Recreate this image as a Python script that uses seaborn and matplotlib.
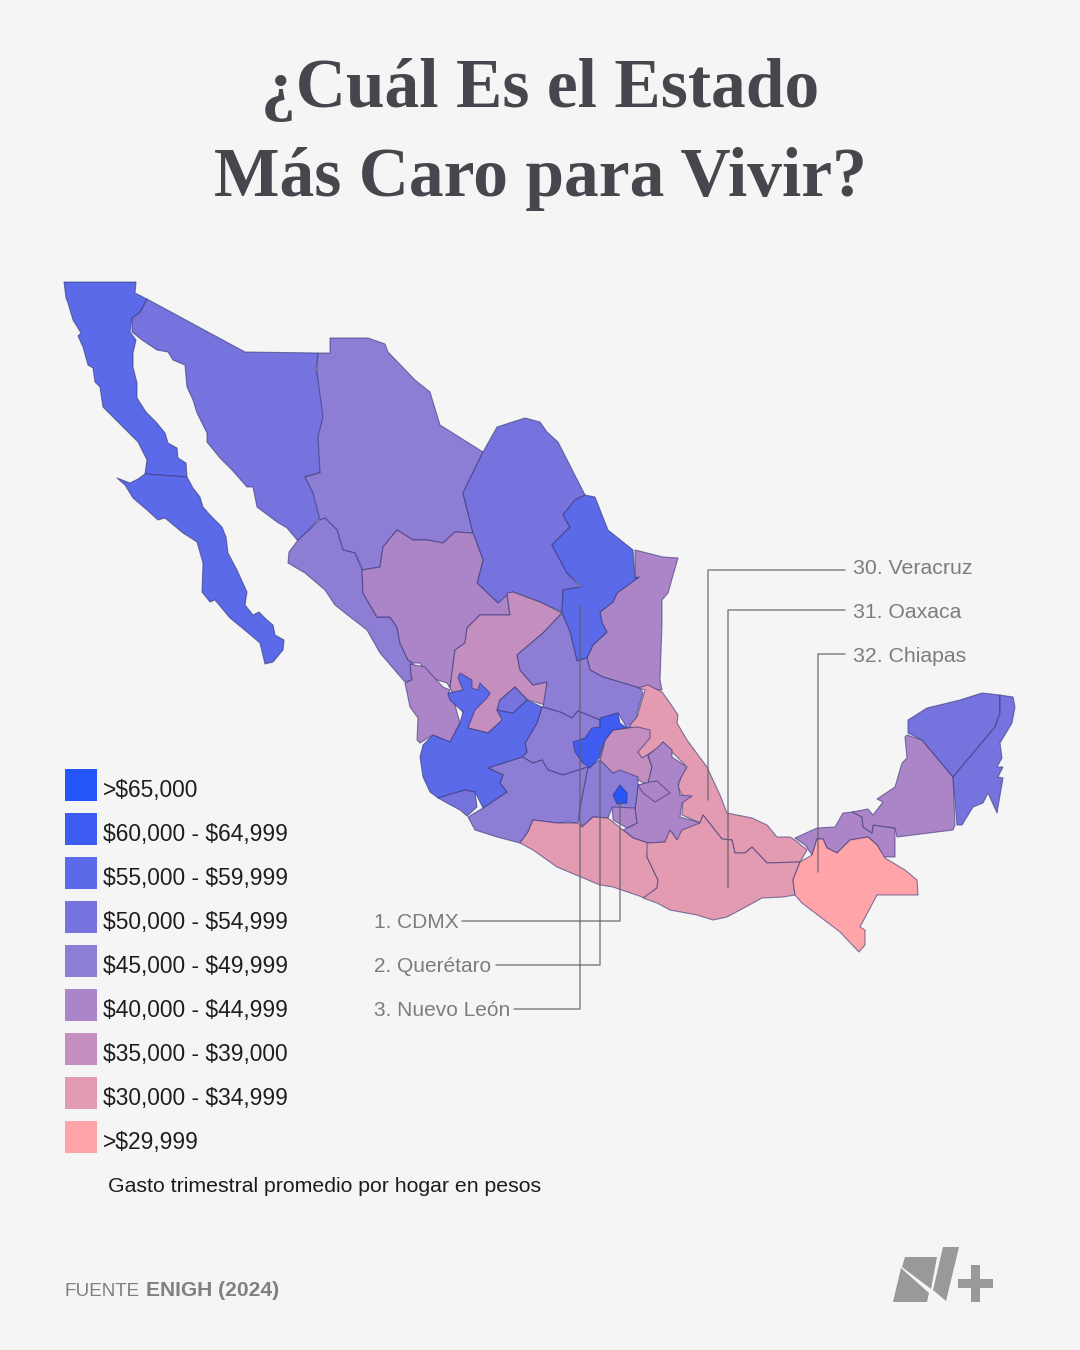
"""Estado mas caro para vivir, map of Mexico"""

##

import matplotlib.pyplot as plt
import numpy as np
import pandas as pd
import seaborn as sns
from matplotlib.colors import ListedColormap
from matplotlib.transforms import ScaledTranslation

## legend bins, top to bottom
bin_labels = ['>$65,000' , '$60,000 - $64,999' , '$55,000 - $59,999' , '$50,000 - $54,999' ,
              '$45,000 - $49,999' , '$40,000 - $44,999' , '$35,000 - $39,000' , '$30,000 - $34,999' ,
              '>$29,999']
bin_colors = ['#2456fa' , '#3f5cf2' , '#5a6ae8' , '#7673df' , '#8e7dd5' , '#ac85c8' , '#c48fbe' , '#e39bb2' ,
              '#ffa4a8']

## state outlines (image x , image y)
sonora = [(147 , 299) , (245 , 352) , (318 , 353) , (316 , 370) , (323 , 397) , (325 , 417) , (320 , 433) , (321 , 472) ,
          (305 , 477) , (317 , 500) , (320 , 518) , (298 , 541) , (287 , 528) , (277 , 522) , (257 , 507) , (253 , 487) ,
          (247 , 487) , (232 , 470) , (220 , 458) , (207 , 442) , (207 , 433) , (197 , 413) , (193 , 400) , (187 , 387) ,
          (185 , 365) , (173 , 360) , (168 , 352) , (157 , 350) , (142 , 340) , (132 , 332) , (132 , 318) , (140 , 312)]
baja_california = [(64 , 282) , (136 , 282) , (135 , 293) , (147 , 299) , (140 , 312) , (132 , 318) , (130 , 332) , (136 , 340) ,
                    (133 , 353) , (133 , 367) , (137 , 383) , (137 , 398) , (146 , 412) , (156 , 422) , (165 , 433) ,
                    (168 , 443) , (177 , 448) , (178 , 458) , (186 , 463) , (187 , 477) , (145 , 474) , (147 , 460) ,
                    (138 , 442) , (118 , 422) , (103 , 407) , (100 , 387) , (95 , 382) , (93 , 368) , (88 , 365) , (83 , 347) ,
                    (78 , 336) , (81 , 333) , (73 , 320) , (68 , 303) , (66 , 298)]
baja_california_sur = [(145 , 474) , (187 , 477) , (193 , 488) , (200 , 497) , (203 , 507) , (210 , 515) , (222 , 527) ,
                       (226 , 537) , (228 , 553) , (237 , 570) , (247 , 592) , (245 , 605) , (253 , 615) , (259 , 612) ,
                       (267 , 620) , (273 , 625) , (275 , 635) , (284 , 640) , (283 , 650) , (273 , 662) , (265 , 664) ,
                       (260 , 643) , (247 , 632) , (230 , 618) , (215 , 600) , (210 , 602) , (202 , 592) , (203 , 563) ,
                       (197 , 542) , (183 , 533) , (165 , 518) , (158 , 520) , (147 , 510) , (133 , 498) , (125 , 485) ,
                       (117 , 478) , (130 , 483) , (138 , 479)]
chihuahua = [(330 , 338) , (368 , 338) , (385 , 344) , (388 , 352) , (415 , 380) , (430 , 392) , (440 , 425) , (483 , 452) ,
             (463 , 493) , (473 , 533) , (455 , 532) , (443 , 543) , (427 , 540) , (413 , 540) , (397 , 530) , (383 , 547) ,
             (380 , 567) , (363 , 570) , (355 , 553) , (343 , 550) , (337 , 530) , (325 , 518) , (320 , 520) , (313 , 493) ,
             (305 , 477) , (320 , 473) , (318 , 437) , (323 , 417) , (317 , 373) , (318 , 353) , (330 , 353)]
coahuila = [(483 , 452) , (497 , 427) , (525 , 418) , (540 , 422) , (547 , 432) , (558 , 442) , (585 , 495) , (575 , 500) ,
            (563 , 515) , (570 , 527) , (552 , 545) , (567 , 573) , (580 , 587) , (563 , 590) , (562 , 612) , (540 , 602) ,
            (513 , 592) , (498 , 603) , (477 , 583) , (483 , 560) , (473 , 533) , (463 , 493)]
nuevo_leon = [(585 , 495) , (595 , 497) , (608 , 530) , (633 , 550) , (635 , 578) , (639 , 577) , (617 , 593) , (613 , 602) ,
              (600 , 612) , (602 , 623) , (607 , 632) , (593 , 645) , (587 , 658) , (577 , 661) , (570 , 632) , (562 , 612) ,
              (563 , 590) , (582 , 587) , (567 , 573) , (552 , 545) , (570 , 527) , (563 , 515) , (575 , 500)]
tamaulipas = [(635 , 550) , (663 , 557) , (678 , 558) , (668 , 593) , (662 , 600) , (662 , 623) , (660 , 680) , (662 , 690) ,
              (640 , 688) , (623 , 683) , (603 , 677) , (590 , 670) , (587 , 658) , (593 , 645) , (607 , 632) , (602 , 623) ,
              (600 , 612) , (613 , 602) , (617 , 593) , (639 , 577) , (635 , 578)]
sinaloa = [(320 , 520) , (325 , 518) , (337 , 530) , (343 , 550) , (355 , 553) , (362 , 570) , (363 , 593) , (377 , 617) ,
           (390 , 617) , (397 , 627) , (400 , 643) , (408 , 660) , (413 , 663) , (410 , 672) , (412 , 680) , (405 , 682) ,
           (380 , 653) , (367 , 630) , (345 , 613) , (335 , 605) , (325 , 590) , (305 , 573) , (288 , 563) , (289 , 552) ,
           (298 , 540)]
durango = [(397 , 530) , (413 , 540) , (427 , 540) , (443 , 543) , (455 , 532) , (473 , 533) , (483 , 560) , (477 , 583) ,
           (498 , 603) , (507 , 595) , (510 , 615) , (480 , 615) , (467 , 628) , (465 , 643) , (455 , 650) , (450 , 688) ,
           (447 , 683) , (428 , 677) , (420 , 663) , (413 , 663) , (408 , 660) , (400 , 643) , (397 , 627) , (390 , 617) ,
           (377 , 617) , (363 , 593) , (362 , 570) , (380 , 567) , (383 , 547)]
zacatecas = [(507 , 593) , (513 , 592) , (540 , 602) , (562 , 613) , (543 , 633) , (517 , 655) , (520 , 670) , (533 , 685) ,
             (547 , 682) , (545 , 705) , (528 , 700) , (515 , 687) , (500 , 700) , (497 , 710) , (503 , 720) , (488 , 733) ,
             (468 , 728) , (462 , 710) , (450 , 688) , (455 , 650) , (465 , 643) , (467 , 628) , (480 , 615) , (510 , 615)]
nayarit = [(410 , 664) , (425 , 667) , (430 , 673) , (443 , 687) , (450 , 690) , (448 , 695) , (455 , 705) , (460 , 723) ,
           (450 , 742) , (433 , 735) , (420 , 743) , (417 , 740) , (418 , 718) , (410 , 707) , (405 , 683) , (412 , 680)]
san_luis_potosi = [(562 , 613) , (570 , 632) , (577 , 661) , (587 , 658) , (590 , 670) , (603 , 677) , (623 , 683) , (640 , 688) ,
                   (643 , 693) , (637 , 713) , (642 , 728) , (627 , 728) , (618 , 713) , (600 , 720) , (578 , 711) , (572 , 718) ,
                   (560 , 712) , (543 , 707) , (547 , 682) , (533 , 685) , (520 , 670) , (517 , 655) , (543 , 633)]
guanajuato = [(542 , 707) , (560 , 712) , (572 , 718) , (578 , 711) , (600 , 720) , (600 , 750) , (588 , 767) ,
              (563 , 775) , (548 , 770) , (542 , 760) , (533 , 763) , (522 , 757) , (527 , 752) , (525 , 743) , (537 , 723)]
veracruz = [(638 , 688) , (648 , 685) , (662 , 692) , (670 , 703) , (678 , 715) , (677 , 723) , (687 , 740) , (707 , 767) ,
            (720 , 795) , (727 , 813) , (752 , 818) , (767 , 825) , (777 , 837) , (790 , 837) , (795 , 840) , (807 , 850) ,
            (803 , 857) , (800 , 862) , (767 , 863) , (752 , 847) , (745 , 853) , (735 , 853) , (732 , 840) , (722 , 839) ,
            (703 , 815) , (700 , 823) , (682 , 815) , (683 , 797) , (678 , 787) , (685 , 765) , (672 , 752) , (663 , 742) ,
            (655 , 755) , (640 , 760) , (635 , 740) , (630 , 725) , (637 , 717) , (645 , 690)]
hidalgo = [(627 , 728) , (638 , 727) , (650 , 730) , (650 , 738) , (638 , 752) , (642 , 758) , (657 , 749) , (648 , 757) ,
           (652 , 767) , (648 , 785) , (638 , 780) , (620 , 772) , (613 , 775) , (600 , 762) , (605 , 740) , (613 , 730)]
puebla = [(663 , 742) , (672 , 750) , (672 , 757) , (687 , 767) , (678 , 783) , (680 , 795) , (692 , 796) , (682 , 803) ,
          (680 , 817) , (702 , 823) , (697 , 832) , (683 , 833) , (677 , 842) , (672 , 832) , (665 , 842) , (648 , 843) ,
          (633 , 838) , (623 , 830) , (637 , 823) , (635 , 810) , (638 , 785) , (648 , 783) , (652 , 767) , (648 , 755) ,
          (657 , 748)]
tlaxcala = [(638 , 785) , (650 , 782) , (657 , 781) , (670 , 793) , (655 , 802) , (643 , 793)]
edomex = [(600 , 760) , (613 , 773) , (620 , 770) , (638 , 777) , (638 , 785) , (635 , 810) , (627 , 815) , (612 , 808) ,
          (608 , 818) , (593 , 817) , (582 , 827) , (578 , 817) , (580 , 807) , (588 , 767)]
morelos = [(612 , 807) , (635 , 808) , (637 , 823) , (627 , 828) , (613 , 820)]
cdmx = [(620 , 785) , (627 , 793) , (627 , 803) , (617 , 804) , (613 , 795)]
michoacan = [(488 , 768) , (522 , 757) , (533 , 763) , (542 , 760) , (548 , 770) , (563 , 775) , (588 , 767) , (580 , 807) ,
             (578 , 823) , (568 , 822) , (557 , 823) , (533 , 820) , (528 , 832) , (520 , 843) , (497 , 837) , (475 , 830) ,
             (468 , 817) , (483 , 808) , (507 , 792) , (500 , 783) , (503 , 775)]
jalisco = [(420 , 757) , (423 , 745) , (433 , 735) , (450 , 742) , (460 , 723) , (463 , 712) , (450 , 700) , (448 , 693) ,
           (463 , 690) , (458 , 678) , (460 , 673) , (467 , 677) , (472 , 680) , (472 , 688) , (478 , 690) , (480 , 683) ,
           (490 , 693) , (487 , 698) , (475 , 710) , (468 , 728) , (488 , 733) , (502 , 720) , (497 , 710) , (513 , 713) ,
           (527 , 700) , (542 , 707) , (537 , 723) , (525 , 743) , (527 , 752) , (522 , 757) , (488 , 768) , (503 , 775) ,
           (500 , 783) , (507 , 792) , (483 , 808) , (475 , 792) , (465 , 790) , (438 , 798) , (430 , 792) , (423 , 777)]
aguascalientes = [(497 , 710) , (500 , 700) , (515 , 687) , (527 , 700) , (513 , 713)]
colima = [(438 , 798) , (465 , 790) , (475 , 792) , (477 , 807) , (467 , 816) , (460 , 810) , (447 , 803)]
queretaro = [(600 , 718) , (618 , 713) , (620 , 723) , (627 , 728) , (613 , 730) , (605 , 740) , (600 , 757) , (590 , 768) ,
             (582 , 762) , (575 , 752) , (573 , 742) , (585 , 738) , (592 , 728) , (600 , 727)]
guerrero = [(520 , 843) , (528 , 832) , (533 , 820) , (557 , 823) , (578 , 823) , (582 , 827) , (593 , 817) , (608 , 818) ,
            (623 , 830) , (633 , 838) , (648 , 843) , (647 , 857) , (658 , 880) , (657 , 888) , (645 , 898) , (613 , 887) ,
            (600 , 885) , (557 , 867) , (533 , 850)]
oaxaca = [(647 , 843) , (665 , 842) , (670 , 830) , (677 , 840) , (682 , 830) , (700 , 823) , (703 , 815) , (722 , 839) ,
          (732 , 840) , (735 , 853) , (745 , 853) , (752 , 847) , (767 , 863) , (800 , 862) , (793 , 880) , (795 , 895) ,
          (783 , 897) , (762 , 898) , (753 , 903) , (727 , 917) , (713 , 920) , (697 , 915) , (670 , 910) , (657 , 903) ,
          (643 , 898) , (657 , 888) , (658 , 880) , (647 , 857)]
chiapas = [(793 , 880) , (800 , 862) , (812 , 855) , (817 , 839) , (823 , 839) , (827 , 848) , (837 , 853) , (850 , 840) ,
           (868 , 837) , (877 , 845) , (885 , 858) , (905 , 870) , (917 , 880) , (918 , 895) , (877 , 895) , (860 , 927) ,
           (865 , 930) , (865 , 945) , (859 , 952) , (840 , 932) , (802 , 903) , (795 , 895)]
tabasco = [(795 , 838) , (817 , 828) , (835 , 827) , (843 , 813) , (853 , 812) , (862 , 817) , (863 , 827) , (872 , 833) ,
           (873 , 825) , (895 , 828) , (895 , 857) , (883 , 857) , (877 , 845) , (868 , 837) , (850 , 840) , (837 , 853) ,
           (827 , 848) , (823 , 839) , (817 , 839) , (812 , 855) , (805 , 845)]
campeche = [(907 , 735) , (922 , 740) , (953 , 777) , (955 , 825) , (953 , 830) , (897 , 837) , (895 , 828) , (873 , 825) ,
            (872 , 833) , (863 , 827) , (862 , 817) , (852 , 812) , (868 , 809) , (873 , 815) , (883 , 802) , (877 , 799) ,
            (895 , 787) , (902 , 763) , (907 , 758) , (905 , 737)]
yucatan = [(908 , 720) , (927 , 708) , (960 , 700) , (982 , 693) , (1000 , 695) , (1000 , 713) , (995 , 727) , (953 , 777) ,
           (922 , 740) , (908 , 733)]
quintana_roo = [(1000 , 695) , (1013 , 697) , (1015 , 707) , (1012 , 723) , (1000 , 743) , (1002 , 758) , (997 , 767) ,
                (1003 , 767) , (998 , 777) , (1003 , 778) , (997 , 813) , (988 , 793) , (983 , 803) , (973 , 807) ,
                (962 , 825) , (957 , 825) , (953 , 777) , (995 , 727) , (1000 , 713)]

## paint order matters , later states sit on top of the neighbours , second item is the legend bin
states = [(sonora , 3) , (baja_california , 2) , (baja_california_sur , 2) , (chihuahua , 4) , (coahuila , 3) ,
          (tamaulipas , 5) , (sinaloa , 4) , (durango , 5) , (zacatecas , 6) , (nuevo_leon , 2) , (nayarit , 5) ,
          (san_luis_potosi , 4) , (guanajuato , 4) , (veracruz , 7) , (hidalgo , 6) , (puebla , 5) , (tlaxcala , 5) ,
          (edomex , 4) , (morelos , 5) , (michoacan , 4) , (jalisco , 2) , (aguascalientes , 3) , (colima , 3) ,
          (queretaro , 1) , (guerrero , 7) , (oaxaca , 7) , (tabasco , 5) , (chiapas , 8) , (campeche , 5) ,
          (yucatan , 3) , (quintana_roo , 3) , (cdmx , 0)]

## ranking callouts
rank_labels = ['1. CDMX' , '2. Querétaro' , '3. Nuevo León']
rank_leaders = [[(462 , 921) , (620 , 921) , (620 , 800)] ,
                [(496 , 965) , (600 , 965) , (600 , 745)] ,
                [(514 , 1009) , (580 , 1009) , (580 , 605)]]
bottom_labels = ['30. Veracruz' , '31. Oaxaca' , '32. Chiapas']
bottom_label_y = [568 , 612 , 656]
bottom_leaders = [[(845 , 570) , (708 , 570) , (708 , 800)] ,
                  [(845 , 610) , (728 , 610) , (728 , 888)] ,
                  [(845 , 654) , (818 , 654) , (818 , 872)]]

## brand mark
logo_left_top = [(905 , 1257) , (937 , 1257) , (931 , 1289) , (902 , 1267)]
logo_left_bottom = [(901 , 1268) , (929 , 1293) , (927 , 1302) , (893 , 1302)]
logo_right = [(943 , 1247) , (959 , 1247) , (946 , 1301) , (933 , 1290)]
logo_plus_v = [(971 , 1265) , (980 , 1265) , (980 , 1302) , (971 , 1302)]
logo_plus_h = [(958 , 1279) , (993 , 1279) , (993 , 1288) , (958 , 1288)]

bg = '#f5f5f5'
txt_font = 'Liberation Sans'

##
sns.set_theme(style='white' , rc={'figure.facecolor' : bg , 'axes.facecolor' : bg})
plt.rcParams['font.family'] = [txt_font , 'DejaVu Sans']

fig = plt.figure(figsize=(10.8 , 13.5) , dpi=100)
ax = fig.add_axes([0 , 0 , 1 , 1])
ax.set_xlim(0 , 1080)
ax.set_ylim(1350 , 0)
ax.axis('off')

## states
for outline , bin_i in states :
  xy = np.array(outline)
  ax.fill(xy[: , 0] , xy[: , 1] , facecolor=bin_colors[bin_i] , edgecolor=(0.2 , 0.2 , 0.45 , 0.6) , linewidth=0.8 ,
          joinstyle='round')

## leader lines
for leader in rank_leaders + bottom_leaders :
  df = pd.DataFrame(leader , columns=['x' , 'y'])
  sns.lineplot(data=df , x='x' , y='y' , sort=False , estimator=None , color='#5f5f68' , alpha=.75 , linewidth=1.1 , ax=ax)
ax.set_xlabel('')
ax.set_ylabel('')

for lbl , leader in zip(rank_labels , rank_leaders) :
  ax.text(374 , leader[0][1] + 1 , lbl , fontsize=15 , color='#7d7d7d' , va='center' , ha='left')
for lbl , lbl_y in zip(bottom_labels , bottom_label_y) :
  ax.text(853 , lbl_y , lbl , fontsize=15.3 , color='#7d7d7d' , va='center' , ha='left')

## title
title_kw = dict(family='Liberation Serif' , fontweight='bold' , fontsize=50 , color='#45474d' , ha='center' , va='center')
ax.text(540 , 90 , '¿Cuál Es el Estado' , **title_kw)
ax.text(540 , 179 , 'Más Caro para Vivir?' , **title_kw)

## note and footer
ax.text(108 , 1187 , 'Gasto trimestral promedio por hogar en pesos' , fontsize=15.35 , color='#1d1d1d' , va='center')
ax.text(65 , 1291 , 'FUENTE' , fontsize=13.6 , color='#808080' , va='center')
ax.text(146 , 1291 , 'ENIGH (2024)' , fontsize=15.1 , fontweight='bold' , color='#808080' , va='center')

## logo
for piece in [logo_left_top , logo_left_bottom , logo_right , logo_plus_v , logo_plus_h] :
  xy = np.array(piece)
  ax.fill(xy[: , 0] , xy[: , 1] , facecolor='#999999' , edgecolor='none')

## legend , one column heatmap , the cell lines make the gaps between swatches
lax = fig.add_axes([59 / 1080 , 1 - 1159 / 1350 , 44 / 1080 , 396 / 1350])
grid = pd.DataFrame({'bin' : np.arange(len(bin_labels))} , index=[a.replace('$' , r'\$') for a in bin_labels])
sns.heatmap(grid , ax=lax , cmap=ListedColormap(bin_colors) , cbar=False , linewidths=8.64 , linecolor=bg ,
            xticklabels=False , yticklabels=True)
lax.set_ylabel('')
lax.yaxis.tick_right()
lax.tick_params(axis='y' , length=0 , pad=0 , labelsize=16.35 , labelcolor='#1d1d1d' , labelrotation=0)
shift = ScaledTranslation(0 , -3 / 100 , fig.dpi_scale_trans)
for t in lax.get_yticklabels() :
  t.set_transform(t.get_transform() + shift)

##
fig.savefig('out.png' , dpi=100 , facecolor=bg)
